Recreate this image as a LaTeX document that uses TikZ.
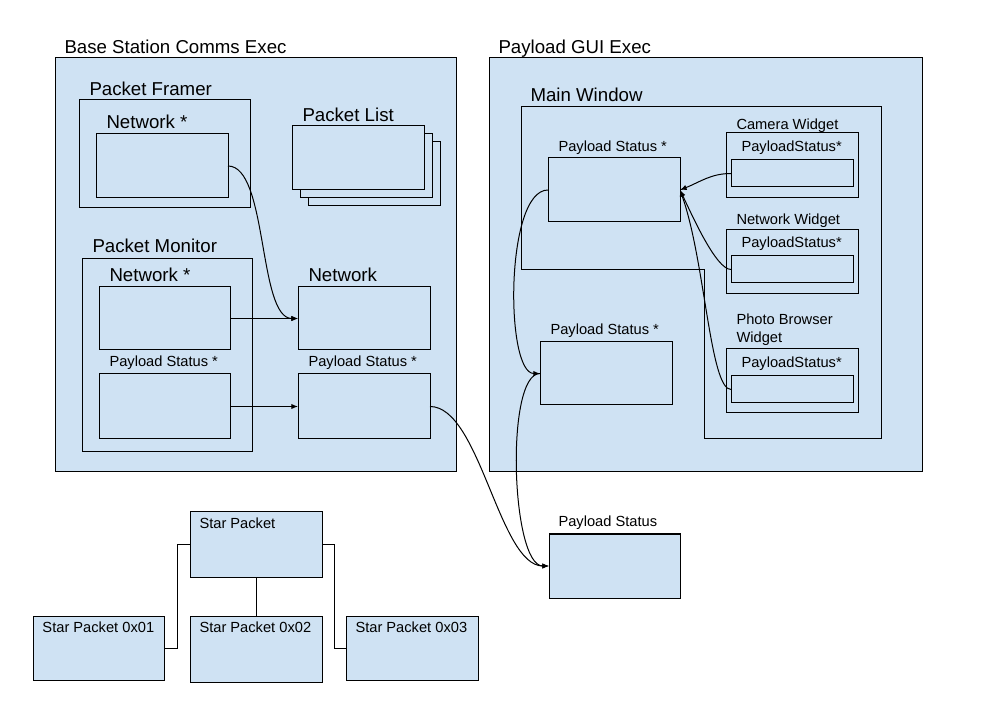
\documentclass[tikz,border=0pt]{standalone}
\usepackage{fontspec}
\setmainfont{Liberation Sans}
\usetikzlibrary{arrows.meta}
\definecolor{boxblue}{HTML}{CFE2F3}
\begin{document}
\begin{tikzpicture}[x=0.75pt,y=-0.75pt,line width=0.75pt,
  box/.style={draw=black,fill=boxblue,inner sep=0pt,outer sep=0pt,anchor=north west},
  sz/.style 2 args={minimum width=#1*0.75pt,minimum height=#2*0.75pt},
  big/.style={anchor=base west,inner sep=0pt,font=\fontsize{14}{16.8}\selectfont},
  small/.style={anchor=base west,inner sep=0pt,font=\fontsize{11}{13.5}\selectfont},
  arr/.style={-{Latex[length=5pt,width=4pt]}}]
\useasboundingbox (0,0) rectangle (990,727);
\fill[white] (0,0) rectangle (990,727);

% containers
\node[box,sz={401}{414}] (bsce) at (55,58) {};
\node[box,sz={433}{414}] (gui) at (489,58) {};

% base station content
\node[box,sz={171}{108}] (framer) at (79,100) {};
\node[box,sz={132}{64}] (fnet) at (96,134) {};
\node[box,sz={132}{64}] (plist3) at (308,142) {};
\node[box,sz={132}{64}] (plist2) at (300,134) {};
\node[box,sz={132}{64}] (plist) at (292,126) {};
\node[box,sz={170}{193}] (monitor) at (82,259) {};
\node[box,sz={131}{63}] (mnet) at (99,287) {};
\node[box,sz={131}{65}] (mps) at (99,374) {};
\node[box,sz={132}{63}] (net) at (298,287) {};
\node[box,sz={132}{65}] (rps) at (298,374) {};

% GUI content
\draw[fill=boxblue] (521,107) -- (881,107) -- (881,439) -- (704,439) -- (704,270) -- (521,270) -- cycle;
\node[box,sz={132}{64}] (gps1) at (548,158) {};
\node[box,sz={132}{63}] (gps2) at (540,342) {};
\node[box,sz={132}{65}] (camW) at (726,133) {};
\node[box,sz={122}{27}] (camI) at (731,160) {};
\node[box,sz={132}{64}] (netW) at (726,230) {};
\node[box,sz={122}{27}] (netI) at (731,256) {};
\node[box,sz={132}{64}] (phW) at (726,349) {};
\node[box,sz={122}{27}] (phI) at (731,376) {};

% outside
\node[box,sz={131}{64}] (bps) at (549,534) {};
\node[box,sz={132}{65}] (sp) at (190,512) {};
\node[box,sz={131}{64}] (s1) at (33,616) {};
\node[box,sz={132}{66}] (s2) at (190,616) {};
\node[box,sz={132}{64}] (s3) at (346,616) {};

% connectors
\draw[arr] (fnet.east) .. controls +(40,0) and +(-40,0) .. (net.west);
\draw[arr] (mnet.east) -- (net.west);
\draw[arr] (mps.east) -- (rps.west);
\draw[arr] (rps.east) .. controls +(50,0) and +(-50,0) .. (bps.west);
\draw[arr] (camI.west) .. controls +(-20,0) and +(20,-8) .. (gps1.east);
\draw[arr] (netI.west) .. controls +(-15,0) and +(12,25) .. (gps1.east);
\draw[arr] (phI.west) .. controls +(-21,0) and +(25,70) .. (gps1.east);
\draw[arr] (gps1.west) .. controls +(-43,0) and +(-35,0) .. (gps2.west);
\draw[arr] (gps2.west) .. controls +(-35,0) and +(-38,0) .. (bps.west);
\draw (sp.west) -- ++(-13,0) |- (s1.east);
\draw (sp.east) -- ++(12,0) |- (s3.west);
\draw (sp.south) -- (s2.north);

% labels
\node[big] (tbsce) at (64,54) {Base Station Comms Exec};
\node[big] (tgui) at (498,54) {Payload GUI Exec};
\node[big] (tframer) at (89,96) {Packet Framer};
\node[big] (tfnet) at (106,129) {Network *};
\node[big] (tplist) at (302,122) {Packet List};
\node[big] (tmonitor) at (92,253) {Packet Monitor};
\node[big] (tmnet) at (109,282) {Network *};
\node[big] (tnet) at (308,282) {Network};
\node[small] (tmps) at (109,367) {Payload Status *};
\node[small] (trps) at (308,367) {Payload Status *};
\node[big] (tmain) at (530,102) {Main Window};
\node[small] (tgps1) at (558,152) {Payload Status *};
\node[small] (tcamW) at (736,130) {Camera Widget};
\node[small] (tcamI) at (741,152) {PayloadStatus*};
\node[small] (tnetW) at (736,225) {Network Widget};
\node[small] (tnetI) at (741,248) {PayloadStatus*};
\node[small] (tphW1) at (736,325) {Photo Browser};
\node[small] (tphW2) at (736,343) {Widget};
\node[small] (tphI) at (741,368) {PayloadStatus*};
\node[small] (tgps2) at (550,335) {Payload Status *};
\node[small] (tbps) at (558,527) {Payload Status};
\node[small] (tsp) at (199,528) {Star Packet};
\node[small] (ts1) at (42,632) {Star Packet 0x01};
\node[small] (ts2) at (199,632) {Star Packet 0x02};
\node[small] (ts3) at (355,632) {Star Packet 0x03};
\end{tikzpicture}
\end{document}
